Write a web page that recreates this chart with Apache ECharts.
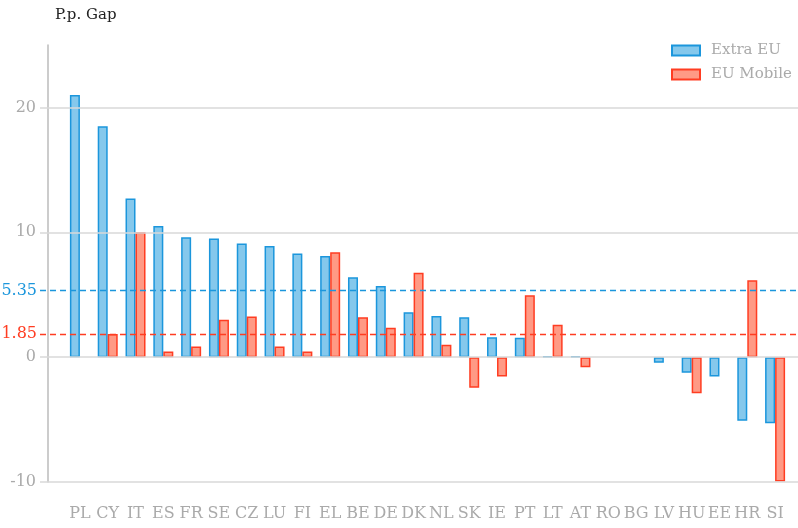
<!DOCTYPE html>
<html>
<head>
<meta charset="utf-8">
<script src="https://cdn.jsdelivr.net/npm/echarts@6/dist/echarts.min.js"></script>
<style>
    html, body { margin: 0; padding: 0; background: #fff; }
    #chart { width: 798px; height: 528px; }
</style>
</head>
<body>
<div id="chart"></div>
<script>
    const countries = ['PL', 'CY', 'IT', 'ES', 'FR', 'SE', 'CZ', 'LU', 'FI', 'EL', 'BE', 'DE', 'DK',
        'NL', 'SK', 'IE', 'PT', 'LT', 'AT', 'RO', 'BG', 'LV', 'HU', 'EE', 'HR', 'SI'];
    const extraEU = [21.0, 18.5, 12.7, 10.5, 9.6, 9.5, 9.1, 8.9, 8.3, 8.1, 6.4, 5.7, 3.6,
        3.3, 3.2, 1.6, 1.55, 0.05, 0.08, null, null, -0.45, -1.25, -1.55, -5.1, -5.3];
    const euMobile = [null, 1.85, 10.0, 0.45, 0.85, 3.0, 3.25, 0.85, 0.45, 8.4, 3.2, 2.35, 6.75,
        1.0, -2.45, -1.55, 4.95, 2.6, -0.8, null, null, null, -2.9, null, 6.15, -9.95];
    const meanExtraEU = 5.35;
    const meanEUMobile = 1.85;
    const yTicks = [-10, 0, 10, 20];

    const font = 'DejaVu Serif';
    const blue = { fill: '#85c8ec', border: '#1b96dc' };
    const red = { fill: '#ff9a85', border: '#ff3d22' };

    const chart = echarts.init(document.getElementById('chart'));

    const option = {
        animation: false,
        textStyle: { fontFamily: font },
        title: {
            text: 'P.p. Gap',
            left: 50,
            top: 3,
            textStyle: { fontFamily: font, fontSize: 15, fontWeight: 'normal', color: '#222' }
        },
        legend: {
            data: ['Extra EU', 'EU Mobile'],
            orient: 'vertical',
            left: 666,
            top: 38,
            icon: 'rect',
            itemWidth: 28,
            itemHeight: 10,
            itemGap: 9,
            textStyle: { fontFamily: font, fontSize: 15, color: '#aaa', padding: [0, 0, 0, 6] }
        },
        grid: [
            { left: 40, right: 0, top: 45, bottom: 46 },
            { left: 66, right: 9, top: 45, bottom: 46 }
        ],
        xAxis: [
            { type: 'value', gridIndex: 0, min: 0, max: 1, show: false },
            {
                type: 'category',
                gridIndex: 1,
                data: countries,
                axisLine: { show: false },
                axisTick: { show: false },
                axisLabel: { fontFamily: font, fontSize: 16, color: '#aaa', margin: 24, interval: 0 }
            }
        ],
        yAxis: [
            {
                type: 'value',
                gridIndex: 0,
                min: -10,
                max: 25,
                interval: 10,
                offset: -8,
                splitLine: { show: false },
                axisTick: { show: false },
                axisLine: { show: true, lineStyle: { color: '#bbb', width: 1.5 } },
                axisLabel: { fontFamily: font, fontSize: 16, color: '#aaa', margin: 12, showMaxLabel: false }
            },
            { type: 'value', gridIndex: 1, min: -10, max: 25, show: false, splitLine: { show: false } }
        ],
        series: [
            {
                // grid lines and mean lines across the full plot width
                type: 'line',
                xAxisIndex: 0,
                yAxisIndex: 0,
                data: [],
                z: 1,
                silent: true,
                markLine: {
                    silent: true,
                    symbol: 'none',
                    animation: false,
                    data: yTicks.map(v => ({
                        yAxis: v,
                        lineStyle: { color: '#d9d9d9', width: 1.5, type: 'solid' },
                        label: { show: false }
                    })).concat([
                        {
                            yAxis: meanExtraEU,
                            lineStyle: { color: blue.border, width: 1.3, type: [6, 4] },
                            label: { show: true, position: 'start', distance: 3, formatter: String(meanExtraEU),
                                fontFamily: font, fontSize: 16, color: blue.border }
                        },
                        {
                            yAxis: meanEUMobile,
                            lineStyle: { color: red.border, width: 1.3, type: [6, 4] },
                            label: { show: true, position: 'start', distance: 3, formatter: String(meanEUMobile),
                                fontFamily: font, fontSize: 16, color: red.border }
                        }
                    ])
                }
            },
            {
                name: 'Extra EU',
                type: 'bar',
                xAxisIndex: 1,
                yAxisIndex: 1,
                data: extraEU,
                barWidth: 10,
                barGap: '0%',
                z: 3,
                itemStyle: { color: blue.fill, borderColor: blue.border, borderWidth: 1.5 }
            },
            {
                name: 'EU Mobile',
                type: 'bar',
                xAxisIndex: 1,
                yAxisIndex: 1,
                data: euMobile,
                barWidth: 10,
                barGap: '0%',
                z: 3,
                itemStyle: { color: red.fill, borderColor: red.border, borderWidth: 1.5 }
            }
        ]
    };

    chart.setOption(option);
</script>
</body>
</html>
